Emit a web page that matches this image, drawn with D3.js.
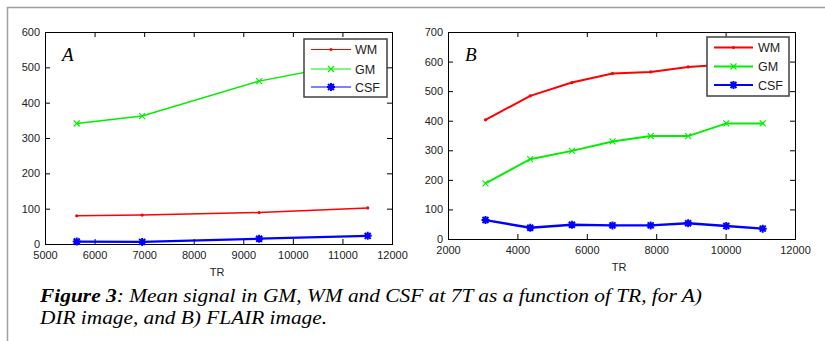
<!DOCTYPE html>
<html><head><meta charset="utf-8">
<script src="https://cdn.jsdelivr.net/npm/d3@7"></script>
<style>body{margin:0;background:#fff}svg{display:block}</style>
</head><body>
<script>
// ---- data ----
const seriesNames = ["WM", "GM", "CSF"];
const trA = [5640, 6960, 9320, 11510];
const wmA = [80, 82, 89, 102];
const gmA = [341, 362, 461, 520];
const csfA = [7, 6, 15, 23];
const trB = [3080, 4370, 5570, 6740, 7840, 8920, 10020, 11070];
const wmB = [403, 484, 529, 560, 565, 582, 590, 596];
const gmB = [188, 270, 298, 330, 348, 348, 391, 391];
const csfB = [64, 38, 48, 46, 46, 53, 44, 35];
const xTicksA = [5000, 6000, 7000, 8000, 9000, 10000, 11000, 12000];
const yTicksA = [0, 100, 200, 300, 400, 500, 600];
const xTicksB = [2000, 4000, 6000, 8000, 10000, 12000];
const yTicksB = [0, 100, 200, 300, 400, 500, 600, 700];
const captionBold = "Figure 3";
const captionLine1 = ": Mean signal in GM, WM and CSF at 7T as a function of TR, for A)";
const captionLine2 = "DIR image, and B) FLAIR image.";

const colors = {WM: "#ff0000", GM: "#00ee00", CSF: "#0000ff"};

const svg = d3.select("body").append("svg").attr("width", 825).attr("height", 341);
svg.append("rect").attr("width", 825).attr("height", 341).attr("fill", "#fff");

// gray page frame
svg.append("line").attr("x1", 7).attr("x2", 825).attr("y1", 7.5).attr("y2", 7.5).attr("stroke", "#a0a0a0").attr("stroke-width", 1.5);
svg.append("line").attr("x1", 7.5).attr("x2", 7.5).attr("y1", 7).attr("y2", 341).attr("stroke", "#a0a0a0").attr("stroke-width", 1.5);

function marker(g, type, x, y, color) {
  if (type === "WM") {
    g.append("circle").attr("cx", x).attr("cy", y).attr("r", 1.6).attr("fill", color);
  } else if (type === "GM") {
    const s = 3;
    g.append("path").attr("d", `M${x-s},${y-s}L${x+s},${y+s}M${x-s},${y+s}L${x+s},${y-s}`)
      .attr("stroke", color).attr("stroke-width", 1.2).attr("fill", "none");
  } else {
    const s = 4, d = 3;
    g.append("path").attr("d", `M${x-s},${y}L${x+s},${y}M${x},${y-s}L${x},${y+s}M${x-d},${y-d}L${x+d},${y+d}M${x-d},${y+d}L${x+d},${y-d}`)
      .attr("stroke", color).attr("stroke-width", 2).attr("fill", "none");
  }
}

function panel(opt) {
  const x = d3.scaleLinear().domain(opt.xd).range([opt.l, opt.r]);
  const y = d3.scaleLinear().domain(opt.yd).range([opt.b, opt.t]);
  const g = svg.append("g");
  const fmt = d3.format("d");
  const axes = [
    [d3.axisBottom(x).tickValues(opt.xt).tickFormat(fmt).tickSize(-5).tickPadding(7), `translate(0,${opt.b})`],
    [d3.axisTop(x).tickValues(opt.xt).tickFormat("").tickSize(-5), `translate(0,${opt.t})`],
    [d3.axisLeft(y).tickValues(opt.yt).tickFormat(fmt).tickSize(-5).tickPadding(5), `translate(${opt.l},0)`],
    [d3.axisRight(y).tickValues(opt.yt).tickFormat("").tickSize(-5), `translate(${opt.r},0)`]
  ];
  axes.forEach(([ax, tr]) => {
    const a = g.append("g").attr("transform", tr).call(ax);
    a.select(".domain").remove();
    a.selectAll("line").attr("stroke", "#000");
    a.selectAll("text").attr("font-family", "Liberation Sans, Arial, sans-serif").attr("font-size", 11).attr("fill", "#222");
  });
  g.append("rect").attr("x", opt.l + 0.5).attr("y", opt.t + 0.5).attr("width", opt.r - opt.l).attr("height", opt.b - opt.t)
    .attr("fill", "none").attr("stroke", "#000").attr("stroke-width", 1);

  const line = d3.line().x(d => x(d[0])).y(d => y(d[1]));
  opt.series.forEach(s => {
    const pts = opt.tr.map((t, i) => [t, s.v[i]]);
    g.append("path").attr("d", line(pts)).attr("fill", "none").attr("stroke", colors[s.name]).attr("stroke-width", s.w);
    pts.forEach(p => marker(g, s.name, x(p[0]), y(p[1]), colors[s.name]));
  });

  // panel letter
  g.append("text").attr("x", opt.letterX).attr("y", opt.letterY).text(opt.letter)
    .attr("font-family", "Liberation Serif, Times New Roman, serif").attr("font-style", "italic").attr("font-size", 19).attr("fill", "#000");
  // x label
  g.append("text").attr("x", opt.trX).attr("y", opt.trY).attr("text-anchor", "middle").text("TR")
    .attr("font-family", "Liberation Sans, Arial, sans-serif").attr("font-size", 11).attr("fill", "#222");

  // legend
  const L = opt.leg;
  g.append("rect").attr("x", L.x).attr("y", L.y).attr("width", L.w).attr("height", L.h)
    .attr("fill", "#fff").attr("stroke", "#404040").attr("stroke-width", 1.5);
  seriesNames.forEach((n, i) => {
    const yy = L.rows[i];
    g.append("line").attr("x1", L.x1).attr("x2", L.x2).attr("y1", yy).attr("y2", yy)
      .attr("stroke", colors[n]).attr("stroke-width", L.lw);
    marker(g, n, (L.x1 + L.x2) / 2, yy, colors[n]);
    g.append("text").attr("x", L.tx).attr("y", yy + 4.5).text(n)
      .attr("font-family", "Liberation Sans, Arial, sans-serif").attr("font-size", 12.5).attr("fill", "#222");
  });
}

panel({
  xd: [5000, 12000], yd: [0, 600], l: 45, r: 392, t: 32, b: 244,
  xt: xTicksA, yt: yTicksA, tr: trA,
  series: [{name: "WM", v: wmA, w: 1.5}, {name: "GM", v: gmA, w: 1.5}, {name: "CSF", v: csfA, w: 2.2}],
  letter: "A", letterX: 62, letterY: 61, trX: 217, trY: 276,
  leg: {x: 304, y: 39, w: 83, h: 58, x1: 311, x2: 351, tx: 355, rows: [49.5, 69, 87], lw: 1.2}
});
panel({
  xd: [2000, 12000], yd: [0, 700], l: 448, r: 795, t: 32, b: 239,
  xt: xTicksB, yt: yTicksB, tr: trB,
  series: [{name: "WM", v: wmB, w: 2}, {name: "GM", v: gmB, w: 2}, {name: "CSF", v: csfB, w: 2.4}],
  letter: "B", letterX: 465, letterY: 61, trX: 619, trY: 271,
  leg: {x: 707, y: 37, w: 82, h: 59, x1: 714, x2: 753, tx: 758, rows: [47.5, 66.5, 85], lw: 2}
});

// caption
const cap = svg.append("g").attr("font-family", "Liberation Serif, Times New Roman, serif").attr("font-style", "italic").attr("font-size", 19).attr("fill", "#000");
const t1 = cap.append("text").attr("x", 40).attr("y", 302).attr("textLength", 662).attr("lengthAdjust", "spacingAndGlyphs");
t1.append("tspan").attr("font-weight", "bold").text(captionBold);
t1.append("tspan").text(captionLine1);
cap.append("text").attr("x", 40).attr("y", 324).attr("textLength", 287).attr("lengthAdjust", "spacingAndGlyphs").text(captionLine2);
</script>
</body></html>
